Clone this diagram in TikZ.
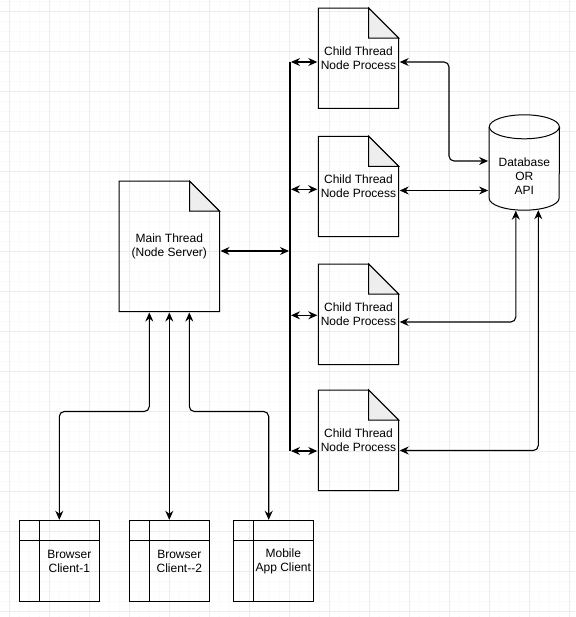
\documentclass[tikz,border=0pt]{standalone}
\usepackage{fontspec}
\setmainfont{Liberation Sans}
\usetikzlibrary{arrows.meta,calc}
\tikzset{
  gridminor/.style={draw=gray!8, line width=1pt, dash pattern=on 1pt off 1pt},
  gridmajor/.style={draw=gray!15, line width=1pt},
  box/.style={draw=none, inner sep=0pt, align=center, font=\fontsize{12}{14}\selectfont},
  txt/.style={inner sep=0pt, align=center, font=\fontsize{12}{14}\selectfont},
  outline/.style={draw=black, line width=1pt, line join=miter},
  foldfill/.style={fill=gray!13, draw=black, line width=1pt},
  conn/.style={draw=black, line width=1.1pt},
  biarrow/.style={conn, {Stealth[length=9pt,width=8pt,inset=3pt]}-{Stealth[length=9pt,width=8pt,inset=3pt]}, shorten <=1pt, shorten >=1pt},
  rc/.style={rounded corners=5pt}
}
\newcommand{\docshape}[1]{%
  \draw[outline] (#1.north west) -- ([xshift=-30pt]#1.north east) -- ([yshift=-30pt]#1.north east) -- (#1.south east) -- (#1.south west) -- cycle;
  \draw[foldfill] ([xshift=-30pt]#1.north east) -- ([xshift=-30pt,yshift=-30pt]#1.north east) -- ([yshift=-30pt]#1.north east) -- cycle;
}
\newcommand{\clientshape}[1]{%
  \draw[outline] (#1.north west) rectangle (#1.south east);
  \draw[outline] ([xshift=20pt]#1.north west) -- ([xshift=20pt]#1.south west);
  \draw[outline] ([yshift=-20pt]#1.north west) -- ([yshift=-20pt]#1.north east);
}
\begin{document}
\begin{tikzpicture}[x=1pt,y=-1pt]
\useasboundingbox (0,0) rectangle (575,617);
\fill[white] (0,0) rectangle (575,617);
% grid
\foreach \i in {-1,...,57} {
  \draw[gridminor] ({9.3+10*\i},0) -- ({9.3+10*\i},617);
}
\foreach \i in {-2,...,61} {
  \draw[gridminor] (0,{11.7+10*\i}) -- (575,{11.7+10*\i});
}
\foreach \i in {0,...,14} {
  \draw[gridmajor] ({9.3+40*\i},0) -- ({9.3+40*\i},617);
}
\foreach \i in {0,...,15} {
  \draw[gridmajor] (0,{11.7+40*\i}) -- (575,{11.7+40*\i});
}
% nodes
\node[box, minimum width=100pt, minimum height=130pt] (main) at (169.3,246.3) {Main Thread\\(Node Server)};
\node[box, minimum width=80pt, minimum height=100pt] (ch1) at (358.5,58.3) {Child Thread\\Node Process};
\node[box, minimum width=80pt, minimum height=100pt] (ch2) at (358.5,186.5) {Child Thread\\Node Process};
\node[box, minimum width=80pt, minimum height=100pt] (ch3) at (358.5,314.3) {Child Thread\\Node Process};
\node[box, minimum width=80pt, minimum height=100pt] (ch4) at (358.5,440.3) {Child Thread\\Node Process};
\node[box, minimum width=70pt, minimum height=95pt] (db) at (524.3,162.5) {};
\node[txt] (dbtext) at (524.3,176) {Database\\OR\\API};
\node[box, minimum width=80pt, minimum height=80pt] (c1) at (59.3,561) {};
\node[box, minimum width=80pt, minimum height=80pt] (c2) at (169.3,561) {};
\node[box, minimum width=80pt, minimum height=80pt] (c3) at (273.3,561) {};
\node[txt] (c1t) at ([xshift=10pt]c1.center) {Browser\\Client-1};
\node[txt] (c2t) at ([xshift=10pt]c2.center) {Browser\\Client-{}-2};
\node[txt] (c3t) at ([xshift=10pt]c3.center) {Mobile\\App Client};
% shapes
\docshape{main}
\docshape{ch1}
\docshape{ch2}
\docshape{ch3}
\docshape{ch4}
\clientshape{c1}
\clientshape{c2}
\clientshape{c3}
% database cylinder
\draw[outline] ([yshift=-12pt]db.north west) -- ([yshift=12pt]db.south west)
  arc[start angle=180, end angle=360, x radius=35pt, y radius=12pt]
  -- ([yshift=-12pt]db.north east);
\draw[outline] ([yshift=-12pt]db.north) ellipse [x radius=35pt, y radius=12pt];
% bus
\coordinate (bus1) at (290,62);
\coordinate (bus2) at (290,189.3);
\coordinate (bus3) at (290,315.3);
\coordinate (bus4) at (290,451);
\coordinate (busM) at (290,251);
\draw[conn] (bus1) -- (bus4);
\draw[biarrow] (main.east |- busM) -- (busM);
\draw[biarrow] (bus1) -- (bus1 -| ch1.west);
\draw[biarrow] (bus2) -- (bus2 -| ch2.west);
\draw[biarrow] (bus3) -- (bus3 -| ch3.west);
\draw[biarrow] (bus4) -- (bus4 -| ch4.west);
% children to database
\draw[biarrow, rc] (ch1.east |- bus1) -- (449,62) -- (449,161) -- (db.west |- 0,161);
\draw[biarrow] (ch2.east |- 0,190.5) -- (db.west |- 0,190.5);
\draw[biarrow, rc] (ch3.east |- 0,322) -| ([xshift=-8.5pt,yshift=0.5pt]db.south);
\draw[biarrow, rc] (ch4.east |- 0,450.5) -| ([xshift=14pt,yshift=1pt]db.south);
% main to clients
\draw[biarrow, rc] ([xshift=-20pt]main.south) -- ++(0,100) -| (c1.north);
\draw[biarrow] (main.south) -- (main.south |- c2.north);
\draw[biarrow, rc] ([xshift=20pt]main.south) -- ++(0,100) -| ([xshift=-4.6pt]c3.north);
\end{tikzpicture}
\end{document}
